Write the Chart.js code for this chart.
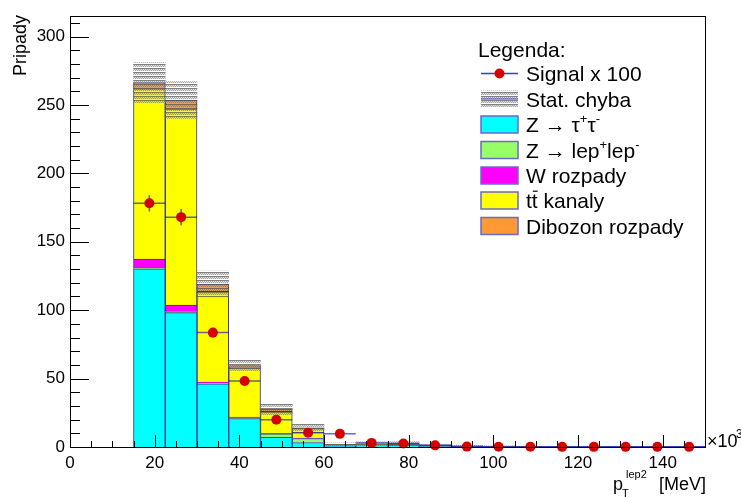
<!DOCTYPE html>
<html>
<head>
<meta charset="utf-8">
<script src="https://cdn.jsdelivr.net/npm/chart.js@4.4.1/dist/chart.umd.min.js"></script>
<style>
  html, body { margin: 0; padding: 0; background: #fff; }
</style>
</head>
<body>
<canvas id="c" width="741" height="498"></canvas>
<script>
// ============================================================================
// DATA  (x in units of 10^3 MeV, bins 7.5 wide from 15 to 150)
// ============================================================================

const binCenters = [18.75, 26.25, 33.75, 41.25, 48.75, 56.25, 63.75, 71.25, 78.75,
                    86.25, 93.75, 101.25, 108.75, 116.25, 123.75, 131.25, 138.75, 146.25];

// stacked backgrounds, bottom to top
const zTauTau   = [130.3, 98.2, 46.1, 20.8, 7.2, 3.3, 0.5, 0.8, 1.2, 0.4, 0.3, 0.2, 0.1, 0.1, 0.1, 0.1, 0.05, 0.05];
const zLepLep   = [1.0, 0.8, 0.8, 0.6, 2.5, 2.9, 0.3, 0.5, 0.3, 0.2, 0.1, 0.1, 0.1, 0.05, 0.05, 0.05, 0.05, 0.05];
const wDecays   = [6.1, 4.8, 0.6, 0.4, 0.3, 0.2, 0.1, 0.1, 0.1, 0.05, 0.05, 0.05, 0, 0, 0, 0, 0, 0];
const ttChannels = [124.3, 143.1, 66.2, 36.0, 16.0, 7.0, 0.9, 0.7, 0.8, 0.3, 0.2, 0.1, 0.1, 0.1, 0.05, 0.05, 0.05, 0.05];
const dibosonDecays = [4.6, 6.7, 5.4, 1.7, 1.5, 0.6, 0.2, 0.1, 0.1, 0.1, 0.05, 0.05, 0.05, 0, 0, 0, 0, 0];

// statistical uncertainty of the summed background
const statErr = [14.6, 13.4, 9.4, 4.0, 4.3, 3.3, 1.0, 1.5, 1.5, 0.6, 0.5, 0.3, 0.2, 0.2, 0.2, 0.2, 0.1, 0.1];

// signal (scaled x 100) and its errors
const signal    = [178.2, 168.0, 83.6, 48.3, 20.0, 10.4, 9.6, 3.0, 2.5, 1.2, 0.3, 0.2, 0.2, 0.1, 0.1, 0.1, 0.1, 0.1];
const signalErr = [6, 6, 3.5, 2.5, 1.8, 1.3, 1.2, 0.7, 0.6, 0.4, 0.2, 0.2, 0.1, 0.1, 0.1, 0.1, 0.1, 0.1];
const binHalfWidth = 3.75;

const FONT = "'Liberation Sans', Arial, Helvetica, sans-serif";
const OUTLINE = '#30309a';

// ============================================================================
// HELPERS
// ============================================================================

// gray dotted fill like the ROOT error band
function makeHatch() {
    const c = document.createElement('canvas');
    c.width = 4; c.height = 4;
    const g = c.getContext('2d');
    g.fillStyle = 'rgba(85,85,85,0.75)';
    g.fillRect(0, 0, 4, 1);
    g.fillStyle = 'rgba(115,115,115,0.65)';
    g.fillRect(0, 1, 1, 1); g.fillRect(2, 1, 1, 1);
    g.fillRect(1, 2, 1, 1); g.fillRect(3, 2, 1, 1);
    g.fillStyle = 'rgba(170,170,170,0.35)';
    g.fillRect(1, 1, 1, 1); g.fillRect(3, 1, 1, 1);
    g.fillRect(0, 2, 1, 1); g.fillRect(2, 2, 1, 1);
    return g.createPattern(c, 'repeat');
}
const hatch = makeHatch();

const toPoints = arr => binCenters.map((x, i) => ({ x: x, y: arr[i] }));
const totals = binCenters.map((_, i) =>
    zTauTau[i] + zLepLep[i] + wDecays[i] + ttChannels[i] + dibosonDecays[i]);

// draw text made of parts: {t, sup, sub, bar}
function drawRich(ctx, parts, x, y, size) {
    let cx = x;
    parts.forEach(p => {
        const s = (p.sup || p.sub) ? Math.round(size * 0.62) : size;
        ctx.font = s + 'px ' + FONT;
        const dy = p.sup ? -size * 0.42 : (p.sub ? size * 0.3 : 0);
        ctx.fillText(p.t, cx, y + dy);
        const w = ctx.measureText(p.t).width;
        if (p.bar) {
            ctx.save();
            ctx.lineWidth = 1.2;
            ctx.strokeStyle = ctx.fillStyle;
            ctx.beginPath();
            ctx.moveTo(cx + 1, y - size * 0.8);
            ctx.lineTo(cx + w, y - size * 0.8);
            ctx.stroke();
            ctx.restore();
        }
        cx += w;
    });
}

// ============================================================================
// PLUGINS
// ============================================================================

const signalErrorBars = {
    id: 'signalErrorBars',
    beforeDatasetDraw(chart, args) {
        const ds = chart.data.datasets[args.index];
        if (!ds.isSignal) return;
        const { ctx } = chart;
        const xs = chart.scales.x, ys = chart.scales.y2;
        ctx.save();
        ctx.strokeStyle = 'rgba(0,0,200,0.6)';
        ctx.lineWidth = 1.5;
        ctx.beginPath();
        binCenters.forEach((bx, i) => {
            const py = ys.getPixelForValue(signal[i]);
            ctx.moveTo(xs.getPixelForValue(bx - binHalfWidth), py);
            ctx.lineTo(xs.getPixelForValue(bx + binHalfWidth), py);
            ctx.moveTo(xs.getPixelForValue(bx), ys.getPixelForValue(signal[i] - signalErr[i]));
            ctx.lineTo(xs.getPixelForValue(bx), ys.getPixelForValue(signal[i] + signalErr[i]));
        });
        ctx.stroke();
        ctx.restore();
    }
};

const rootFrame = {
    id: 'rootFrame',
    afterDraw(chart) {
        const { ctx, chartArea: a } = chart;
        const xs = chart.scales.x, ys = chart.scales.y;
        ctx.save();
        ctx.strokeStyle = '#000';
        ctx.lineWidth = 1;
        ctx.beginPath();
        // inward ticks on the x axis
        for (let v = 0; v <= 150; v += 5) {
            const px = Math.round(xs.getPixelForValue(v)) + 0.5;
            const len = v % 20 === 0 ? 12 : 6;
            ctx.moveTo(px, a.bottom);
            ctx.lineTo(px, a.bottom - len);
        }
        // inward ticks on the y axis
        for (let v = 0; v <= 310; v += 10) {
            const py = Math.round(ys.getPixelForValue(v)) + 0.5;
            const len = v % 50 === 0 ? 19 : 10;
            ctx.moveTo(a.left, py);
            ctx.lineTo(a.left + len, py);
        }
        ctx.stroke();
        ctx.strokeRect(Math.round(a.left) + 0.5, Math.round(a.top) + 0.5,
                       Math.round(a.right - a.left), Math.round(a.bottom - a.top));

        // axis titles
        ctx.fillStyle = '#000';
        ctx.save();
        ctx.translate(26, 15);
        ctx.rotate(-Math.PI / 2);
        ctx.textAlign = 'right';
        ctx.font = '18px ' + FONT;
        ctx.fillText('Pripady', 0, 0);
        ctx.restore();

        ctx.textAlign = 'left';
        ctx.font = '18px ' + FONT;
        ctx.fillText('p', 613, 490);
        ctx.font = '11px ' + FONT;
        ctx.fillText('T', 622, 497);
        ctx.fillText('lep2', 626, 478);
        ctx.font = '18px ' + FONT;
        ctx.textAlign = 'right';
        ctx.fillText('[MeV]', 706, 490);

        ctx.textAlign = 'left';
        ctx.font = '18px ' + FONT;
        ctx.fillText('\u00d710', 707, 447);
        ctx.font = '12px ' + FONT;
        ctx.fillText('3', 736, 438);
        ctx.restore();
    }
};

// legend entries (kind, text parts, colour)
const legendEntries = [
    { kind: 'signal', parts: [{ t: 'Signal x 100' }] },
    { kind: 'stat',   parts: [{ t: 'Stat. chyba' }] },
    { kind: 'box', color: '#00ffff', parts: [{ t: 'Z \u2192 \u03c4' }, { t: '+', sup: true }, { t: '\u03c4' }, { t: '-', sup: true }] },
    { kind: 'box', color: '#99ff66', parts: [{ t: 'Z \u2192 lep' }, { t: '+', sup: true }, { t: 'lep' }, { t: '-', sup: true }] },
    { kind: 'box', color: '#ff00ff', parts: [{ t: 'W rozpady' }] },
    { kind: 'box', color: '#ffff00', parts: [{ t: 't' }, { t: 't', bar: true }, { t: ' kanaly' }] },
    { kind: 'box', color: '#ff9933', parts: [{ t: 'Dibozon rozpady' }] }
];
const legendBaselines = [81, 106.5, 132, 157.5, 183, 208, 233.5];

const rootLegend = {
    id: 'rootLegend',
    afterDraw(chart) {
        const { ctx } = chart;
        ctx.save();
        ctx.fillStyle = '#000';
        ctx.textAlign = 'left';
        ctx.textBaseline = 'alphabetic';
        ctx.font = '21px ' + FONT;
        ctx.fillText('Legenda:', 478, 56.5);
        legendEntries.forEach((e, i) => {
            const by = legendBaselines[i];
            const cy = by - 7.5;
            const x0 = 481, x1 = 518;
            if (e.kind === 'signal') {
                ctx.strokeStyle = '#3a3acc';
                ctx.lineWidth = 1.5;
                ctx.beginPath(); ctx.moveTo(x0, cy); ctx.lineTo(x1, cy); ctx.stroke();
                ctx.fillStyle = '#d40000';
                ctx.beginPath(); ctx.arc((x0 + x1) / 2, cy, 5, 0, Math.PI * 2); ctx.fill();
            } else if (e.kind === 'stat') {
                ctx.fillStyle = hatch;
                ctx.fillRect(x0, cy - 8.5, x1 - x0, 17);
                ctx.strokeStyle = '#3a3acc';
                ctx.lineWidth = 1.2;
                ctx.beginPath(); ctx.moveTo(x0, cy); ctx.lineTo(x1, cy); ctx.stroke();
            } else {
                ctx.fillStyle = e.color;
                ctx.fillRect(x0, cy - 8.5, x1 - x0, 17);
                ctx.strokeStyle = '#6a6ac8';
                ctx.lineWidth = 1.5;
                ctx.strokeRect(x0, cy - 8.5, x1 - x0, 17);
            }
            ctx.fillStyle = '#000';
            drawRich(ctx, e.parts, 526, by, 21);
        });
        ctx.restore();
    }
};

// ============================================================================
// CHART
// ============================================================================

function barSet(label, arr, color) {
    return {
        type: 'bar',
        label: label,
        data: toPoints(arr),
        backgroundColor: color,
        borderColor: OUTLINE,
        borderWidth: 1,
        borderSkipped: 'start',
        barPercentage: 1,
        categoryPercentage: 1,
        grouped: false,
        stack: 'mc',
        xAxisID: 'x',
        yAxisID: 'y',
        order: 2
    };
}

const tickFont = { family: FONT, size: 17 };

new Chart(document.getElementById('c'), {
    type: 'bar',
    data: {
        datasets: [
            {
                type: 'line',
                label: 'Signal x 100',
                isSignal: true,
                data: toPoints(signal),
                showLine: false,
                pointRadius: 5,
                pointBackgroundColor: '#d40000',
                pointBorderWidth: 0,
                xAxisID: 'x',
                yAxisID: 'y2',
                clip: false,
                order: 0
            },
            {
                type: 'bar',
                label: 'Stat. chyba',
                data: binCenters.map((x, i) => ({ x: x, y: [totals[i] - statErr[i], totals[i] + statErr[i]] })),
                backgroundColor: hatch,
                borderWidth: 0,
                barPercentage: 1,
                categoryPercentage: 1,
                grouped: false,
                xAxisID: 'x2',
                yAxisID: 'y2',
                order: 1
            },
            barSet('Z \u2192 \u03c4\u207a\u03c4\u207b', zTauTau, '#00ffff'),
            barSet('Z \u2192 lep\u207alep\u207b', zLepLep, '#99ff66'),
            barSet('W rozpady', wDecays, '#ff00ff'),
            barSet('tt\u0304 kanaly', ttChannels, '#ffff00'),
            barSet('Dibozon rozpady', dibosonDecays, '#ff9933')
        ]
    },
    options: {
        responsive: false,
        animation: false,
        devicePixelRatio: 1,
        layout: { padding: { top: 16, right: 36, left: 0, bottom: 0 } },
        plugins: {
            legend: { display: false },
            tooltip: { enabled: false }
        },
        scales: {
            x: {
                type: 'linear',
                stacked: true,
                min: 0,
                max: 150,
                offset: false,
                grid: { display: false, drawTicks: false },
                border: { display: false },
                ticks: { stepSize: 20, includeBounds: false, padding: 6, maxRotation: 0,
                         autoSkip: false, color: '#000', font: tickFont },
                afterFit(s) { s.height = 51; }
            },
            y: {
                stacked: true,
                min: 0,
                max: 315,
                grid: { display: false, drawTicks: false },
                border: { display: false },
                ticks: { stepSize: 50, includeBounds: false, padding: 5, color: '#000', font: tickFont },
                afterFit(s) { s.width = 70; }
            },
            x2: { type: 'linear', display: false, min: 0, max: 150, offset: false },
            y2: { display: false, min: 0, max: 315 }
        }
    },
    plugins: [signalErrorBars, rootFrame, rootLegend]
});
</script>
</body>
</html>
